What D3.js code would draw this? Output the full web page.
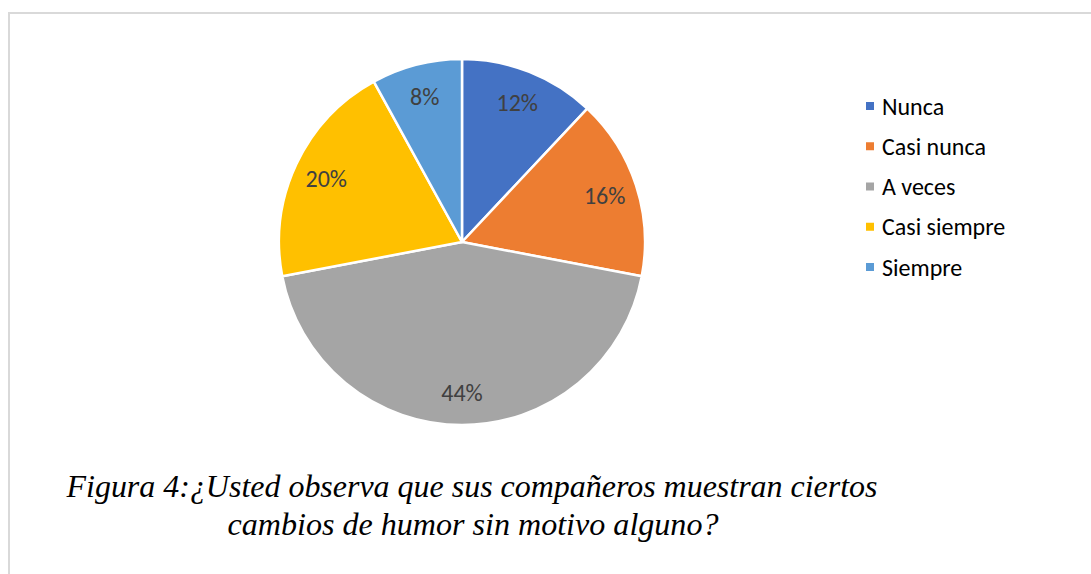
<!DOCTYPE html>
<html><head><meta charset="utf-8">
<script src="https://cdn.jsdelivr.net/npm/d3@7"></script>
<style>body{margin:0;background:#fff}svg{display:block}
.ttl{font-family:"Liberation Serif","Times New Roman",Times,serif;font-style:italic}</style>
</head><body>
<svg id="c" width="1091" height="574"></svg>
<script>
const categories = ["Nunca", "Casi nunca", "A veces", "Casi siempre", "Siempre"];
const values = [12, 16, 44, 20, 8];
const colors = ["#4472c4", "#ed7d31", "#a5a5a5", "#ffc000", "#5b9bd5"];
const titleLines = ["Figura 4:¿Usted observa que sus compañeros muestran ciertos", "cambios de humor sin motivo alguno?"];

const svg = d3.select("#c");
svg.append("rect").attr("x", 9).attr("y", 13).attr("width", 1100).attr("height", 600)
  .attr("fill", "#fff").attr("stroke", "#d9d9d9").attr("stroke-width", 2);

const cx = 462, cy = 242, R = 183;
const data = categories.map((c, i) => ({cat: c, v: values[i], color: colors[i]}));
const pie = d3.pie().sort(null).value(d => d.v);
const arcs = pie(data);
const arc = d3.arc().innerRadius(0).outerRadius(R);
const labelArc = d3.arc().innerRadius(150).outerRadius(150);
const totalV = d3.sum(values);

const g = svg.append("g").attr("transform", `translate(${cx},${cy})`);
g.selectAll("path").data(arcs).join("path")
  .attr("d", arc).attr("fill", d => d.data.color)
  .attr("stroke", "#fff").attr("stroke-width", 2.5).attr("stroke-linejoin", "round");
g.selectAll("text").data(arcs).join("text")
  .attr("transform", d => `translate(${labelArc.centroid(d)})`)
  .attr("text-anchor", "middle").attr("dominant-baseline", "central")
  .attr("font-family", "Carlito, 'Open Sans', 'Liberation Sans', sans-serif")
  .attr("font-size", 24).attr("fill", "#404040")
  .text(d => Math.round(d.data.v / totalV * 100) + "%");

const leg = svg.append("g");
const ly = d3.scalePoint().domain(categories).range([106, 267]);
categories.forEach((c, i) => {
  leg.append("rect").attr("x", 866).attr("y", ly(c) - 4).attr("width", 8).attr("height", 8).attr("fill", colors[i]);
  leg.append("text").attr("x", 882).attr("y", ly(c)).attr("dominant-baseline", "central")
    .attr("font-family", "Carlito, 'Open Sans', 'Liberation Sans', sans-serif")
    .attr("font-size", 24).attr("fill", "#000").text(c);
});

const tl = [[472, 497, 811], [473, 535, 491]];
titleLines.forEach((t, i) => {
  svg.append("text").attr("class", "ttl").attr("x", tl[i][0]).attr("y", tl[i][1]).attr("text-anchor", "middle")
    .attr("font-size", 31).attr("fill", "#000")
    .attr("textLength", tl[i][2]).attr("lengthAdjust", "spacingAndGlyphs")
    .text(t);
});
</script>
</body></html>
